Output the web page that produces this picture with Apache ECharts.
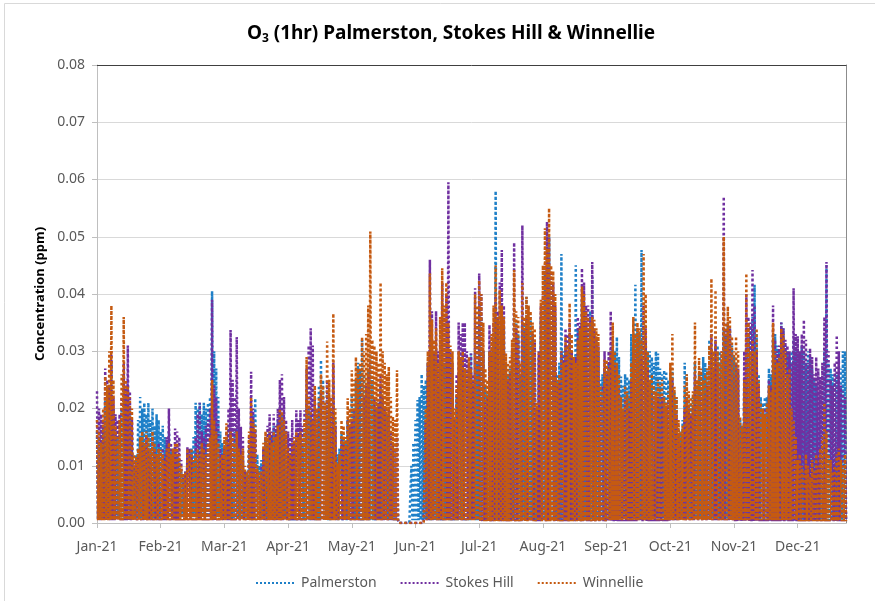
<!DOCTYPE html>
<html>
<head>
<meta charset="utf-8">
<script src="https://cdn.jsdelivr.net/npm/echarts/dist/echarts.min.js"></script>
<style>
  html, body { margin: 0; padding: 0; background: #fff; }
  #chart { width: 875px; height: 601px; }
</style>
</head>
<body>
<div id="chart"></div>
<script>
// tick labels, one every 31 days (Excel category axis, 744 hourly points apart)
const tickLabels = ['Jan-21', 'Feb-21', 'Mar-21', 'Apr-21', 'May-21', 'Jun-21',
  'Jul-21', 'Aug-21', 'Sep-21', 'Oct-21', 'Nov-21', 'Dec-21']
const seriesNames = ['Palmerston', 'Stokes Hill', 'Winnellie']

// daily peak values (ppm), one row per 31-day tick interval
const palmerstonPeaks = [
  [0.016, 0.015, 0.013, 0.017, 0.022, 0.020, 0.023, 0.028, 0.020, 0.016, 0.015, 0.016, 0.020, 0.026, 0.022, 0.024, 0.020, 0.016, 0.010, 0.012, 0.018, 0.022, 0.020, 0.021, 0.019, 0.021, 0.018, 0.020, 0.017, 0.019, 0.018],
  [0.016, 0.017, 0.015, 0.014, 0.016, 0.013, 0.012, 0.013, 0.012, 0.011, 0.009, 0.008, 0.009, 0.012, 0.011, 0.013, 0.015, 0.021, 0.020, 0.021, 0.019, 0.021, 0.020, 0.021, 0.022, 0.0405, 0.030, 0.027, 0.022, 0.016, 0.014],
  [0.013, 0.015, 0.017, 0.016, 0.018, 0.016, 0.017, 0.014, 0.012, 0.011, 0.009, 0.009, 0.013, 0.018, 0.019, 0.0218, 0.012, 0.010, 0.011, 0.013, 0.015, 0.014, 0.016, 0.015, 0.017, 0.016, 0.018, 0.020, 0.019, 0.017, 0.015],
  [0.012, 0.011, 0.013, 0.014, 0.015, 0.013, 0.015, 0.014, 0.016, 0.022, 0.020, 0.019, 0.018, 0.020, 0.019, 0.024, 0.0285, 0.025, 0.020, 0.023, 0.021, 0.020, 0.025, 0.018, 0.012, 0.013, 0.016, 0.015, 0.014, 0.018, 0.017],
  [0.0226, 0.020, 0.025, 0.028, 0.027, 0.032, 0.026, 0.024, 0.027, 0.030, 0.025, 0.022, 0.020, 0.021, 0.024, 0.022, 0.020, 0.019, 0.018, 0.016, 0.014, 0.013, 0.015, 0, 0, 0, 0, 0, 0, 0.010, 0.014],
  [0.018, 0.0215, 0.022, 0.026, 0.024, 0.025, 0.028, 0.030, 0.026, 0.025, 0.027, 0.024, 0.028, 0.030, 0.028, 0.030, 0.027, 0.025, 0.024, 0.018, 0.022, 0.026, 0.025, 0.026, 0.024, 0.025, 0.024, 0.0296, 0.024, 0.030, 0.028],
  [0.038, 0.036, 0.030, 0.024, 0.023, 0.030, 0.028, 0.032, 0.058, 0.036, 0.035, 0.038, 0.034, 0.028, 0.026, 0.027, 0.030, 0.036, 0.035, 0.033, 0.026, 0.036, 0.035, 0.0395, 0.038, 0.036, 0.033, 0.032, 0.020, 0.029, 0.036],
  [0.038, 0.044, 0.046, 0.050, 0.042, 0.040, 0.036, 0.026, 0.028, 0.047, 0.030, 0.031, 0.030, 0.033, 0.030, 0.028, 0.045, 0.034, 0.033, 0.039, 0.038, 0.035, 0.034, 0.037, 0.043, 0.033, 0.032, 0.030, 0.025, 0.026, 0.027],
  [0.026, 0.028, 0.030, 0.031, 0.030, 0.0325, 0.029, 0.0256, 0.024, 0.026, 0.0256, 0.025, 0.033, 0.031, 0.0416, 0.034, 0.033, 0.0477, 0.035, 0.032, 0.030, 0.030, 0.029, 0.028, 0.030, 0.0296, 0.027, 0.026, 0.0267, 0.0265, 0.025],
  [0.026, 0.027, 0.023, 0.022, 0.017, 0.016, 0.018, 0.028, 0.026, 0.022, 0.021, 0.022, 0.028, 0.024, 0.026, 0.026, 0.029, 0.028, 0.027, 0.032, 0.030, 0.029, 0.031, 0.031, 0.030, 0.028, 0.034, 0.033, 0.035, 0.034, 0.031],
  [0.029, 0.028, 0.026, 0.018, 0.017, 0.025, 0.030, 0.033, 0.034, 0.036, 0.0416, 0.033, 0.026, 0.022, 0.021, 0.022, 0.022, 0.027, 0.026, 0.032, 0.033, 0.031, 0.030, 0.035, 0.034, 0.031, 0.030, 0.029, 0.030, 0.032, 0.030],
  [0.030, 0.029, 0.031, 0.030, 0.028, 0.030, 0.029, 0.027, 0.025, 0.024, 0.023, 0.022, 0.025, 0.030, 0.045, 0.028, 0.027, 0.026, 0.025, 0.026, 0.025, 0.027, 0.030, 0.030]
]
const stokesHillPeaks = [
  [0.023, 0.020, 0.019, 0.018, 0.027, 0.025, 0.024, 0.030, 0.022, 0.019, 0.018, 0.019, 0.022, 0.028, 0.024, 0.031, 0.023, 0.018, 0.011, 0.010, 0.012, 0.013, 0.014, 0.013, 0.015, 0.013, 0.012, 0.015, 0.013, 0.012, 0.014],
  [0.012, 0.013, 0.012, 0.015, 0.020, 0.014, 0.013, 0.0165, 0.016, 0.015, 0.011, 0.008, 0.009, 0.0133, 0.013, 0.012, 0.011, 0.015, 0.019, 0.021, 0.016, 0.015, 0.017, 0.018, 0.020, 0.039, 0.024, 0.022, 0.018, 0.013, 0.012],
  [0.013, 0.016, 0.020, 0.0337, 0.025, 0.022, 0.0325, 0.020, 0.0168, 0.015, 0.009, 0.008, 0.015, 0.0264, 0.020, 0.016, 0.009, 0.008, 0.010, 0.013, 0.015, 0.017, 0.019, 0.016, 0.019, 0.017, 0.020, 0.025, 0.026, 0.022, 0.018],
  [0.016, 0.015, 0.018, 0.014, 0.0197, 0.018, 0.0197, 0.017, 0.0197, 0.027, 0.031, 0.034, 0.031, 0.022, 0.020, 0.021, 0.023, 0.022, 0.020, 0.025, 0.022, 0.020, 0.028, 0.017, 0.009, 0.011, 0.015, 0.014, 0.013, 0.018, 0.017],
  [0.018, 0.020, 0.022, 0.021, 0.024, 0.025, 0.022, 0.024, 0.026, 0.028, 0.025, 0.022, 0.020, 0.021, 0.026, 0.022, 0.020, 0.019, 0.020, 0.016, 0.014, 0.013, 0.015, 0, 0, 0, 0, 0, 0, 0, 0],
  [0, 0, 0, 0, 0, 0.018, 0.028, 0.046, 0.037, 0.030, 0.037, 0.030, 0.032, 0.042, 0.036, 0.040, 0.0595, 0.030, 0.028, 0.018, 0.026, 0.035, 0.033, 0.035, 0.035, 0.030, 0.028, 0.0296, 0.026, 0.041, 0.035],
  [0.0436, 0.040, 0.030, 0.021, 0.022, 0.0346, 0.030, 0.035, 0.040, 0.037, 0.042, 0.0477, 0.038, 0.0267, 0.025, 0.026, 0.030, 0.049, 0.034, 0.032, 0.027, 0.052, 0.034, 0.036, 0.037, 0.034, 0.033, 0.032, 0.020, 0.030, 0.038],
  [0.040, 0.045, 0.0526, 0.050, 0.044, 0.042, 0.038, 0.024, 0.025, 0.030, 0.029, 0.034, 0.033, 0.035, 0.030, 0.028, 0.029, 0.036, 0.035, 0.0445, 0.042, 0.038, 0.038, 0.036, 0.0456, 0.034, 0.032, 0.031, 0.022, 0.024, 0.030],
  [0.026, 0.030, 0.037, 0.032, 0.028, 0.027, 0.024, 0.020, 0.019, 0.022, 0.021, 0.020, 0.025, 0.030, 0.030, 0.032, 0.030, 0.029, 0.038, 0.034, 0.027, 0.024, 0.023, 0.022, 0.021, 0.022, 0.021, 0.022, 0.020, 0.020, 0.021],
  [0.022, 0.025, 0.020, 0.019, 0.015, 0.014, 0.015, 0.020, 0.022, 0.020, 0.019, 0.020, 0.026, 0.022, 0.024, 0.023, 0.022, 0.023, 0.024, 0.028, 0.033, 0.027, 0.032, 0.028, 0.026, 0.030, 0.057, 0.034, 0.035, 0.034, 0.030],
  [0.026, 0.028, 0.027, 0.017, 0.016, 0.030, 0.040, 0.036, 0.035, 0.0442, 0.038, 0.030, 0.024, 0.020, 0.019, 0.020, 0.020, 0.025, 0.024, 0.038, 0.032, 0.030, 0.031, 0.035, 0.034, 0.032, 0.031, 0.030, 0.028, 0.041, 0.033],
  [0.0326, 0.030, 0.033, 0.0355, 0.032, 0.028, 0.0305, 0.029, 0.026, 0.029, 0.027, 0.0255, 0.028, 0.036, 0.0456, 0.030, 0.025, 0.024, 0.028, 0.0328, 0.030, 0.024, 0.023, 0.022]
]
const winnelliePeaks = [
  [0.018, 0.016, 0.014, 0.020, 0.0256, 0.024, 0.030, 0.038, 0.025, 0.017, 0.015, 0.018, 0.026, 0.036, 0.025, 0.024, 0.022, 0.020, 0.012, 0.0116, 0.013, 0.015, 0.016, 0.014, 0.016, 0.015, 0.013, 0.016, 0.014, 0.012, 0.013],
  [0.0128, 0.012, 0.011, 0.013, 0.014, 0.012, 0.013, 0.014, 0.014, 0.012, 0.010, 0.0087, 0.009, 0.013, 0.012, 0.013, 0.011, 0.012, 0.013, 0.012, 0.014, 0.013, 0.012, 0.014, 0.015, 0.025, 0.018, 0.016, 0.014, 0.0116, 0.012],
  [0.015, 0.0174, 0.014, 0.016, 0.015, 0.014, 0.016, 0.013, 0.012, 0.013, 0.010, 0.009, 0.016, 0.022, 0.018, 0.017, 0.010, 0.009, 0.009, 0.014, 0.016, 0.015, 0.016, 0.014, 0.016, 0.015, 0.017, 0.020, 0.0195, 0.018, 0.016],
  [0.0133, 0.012, 0.014, 0.015, 0.016, 0.015, 0.016, 0.015, 0.018, 0.029, 0.022, 0.020, 0.018, 0.024, 0.020, 0.022, 0.026, 0.024, 0.021, 0.0317, 0.025, 0.022, 0.0366, 0.020, 0.0104, 0.012, 0.018, 0.017, 0.015, 0.0218, 0.020],
  [0.0267, 0.025, 0.029, 0.027, 0.028, 0.0325, 0.030, 0.033, 0.038, 0.0509, 0.032, 0.031, 0.030, 0.028, 0.042, 0.030, 0.028, 0.026, 0.0273, 0.022, 0.0186, 0.018, 0.0267, 0, 0, 0, 0, 0, 0, 0, 0],
  [0, 0, 0, 0, 0, 0.020, 0.030, 0.0436, 0.0355, 0.032, 0.034, 0.028, 0.036, 0.0445, 0.038, 0.042, 0.035, 0.031, 0.030, 0.020, 0.024, 0.030, 0.029, 0.030, 0.027, 0.0267, 0.029, 0.027, 0.025, 0.040, 0.038],
  [0.0424, 0.040, 0.035, 0.027, 0.025, 0.030, 0.033, 0.038, 0.045, 0.036, 0.0407, 0.038, 0.036, 0.0296, 0.028, 0.029, 0.032, 0.0442, 0.037, 0.036, 0.028, 0.0419, 0.036, 0.0395, 0.038, 0.037, 0.035, 0.034, 0.021, 0.030, 0.039],
  [0.045, 0.0515, 0.048, 0.055, 0.045, 0.044, 0.040, 0.025, 0.026, 0.030, 0.028, 0.0326, 0.031, 0.0384, 0.033, 0.029, 0.028, 0.032, 0.034, 0.0413, 0.040, 0.037, 0.036, 0.035, 0.036, 0.0355, 0.034, 0.033, 0.024, 0.023, 0.0285],
  [0.0285, 0.027, 0.030, 0.035, 0.030, 0.028, 0.026, 0.022, 0.020, 0.024, 0.023, 0.022, 0.028, 0.036, 0.033, 0.035, 0.034, 0.032, 0.047, 0.040, 0.030, 0.025, 0.026, 0.024, 0.023, 0.025, 0.024, 0.025, 0.022, 0.021, 0.023],
  [0.028, 0.033, 0.0238, 0.022, 0.018, 0.016, 0.017, 0.024, 0.026, 0.023, 0.022, 0.023, 0.035, 0.025, 0.0288, 0.027, 0.025, 0.026, 0.027, 0.031, 0.0427, 0.030, 0.0407, 0.030, 0.028, 0.030, 0.050, 0.035, 0.0378, 0.036, 0.0326],
  [0.030, 0.0326, 0.030, 0.0186, 0.017, 0.025, 0.0436, 0.035, 0.030, 0.032, 0.030, 0.034, 0.025, 0.021, 0.020, 0.019, 0.021, 0.024, 0.023, 0.035, 0.030, 0.028, 0.029, 0.034, 0.033, 0.030, 0.026, 0.027, 0.020, 0.018, 0.015],
  [0.011, 0.012, 0.010, 0.009, 0.012, 0.010, 0.008, 0.011, 0.009, 0.012, 0.010, 0.013, 0.015, 0.021, 0.016, 0.012, 0.011, 0.009, 0.010, 0.012, 0.013, 0.011, 0.010, 0.012]
]
// overnight lows (ppm), one per tick interval
const palmerstonLows = [0.0008, 0.001, 0.0008, 0.0005, 0.0005, 0.0005, 0.0005, 0.0005, 0.0008, 0.0008, 0.0005, 0.0005]
const stokesHillLows = [0.0005, 0.0005, 0.0005, 0.0005, 0.0005, 0.0005, 0.0003, 0.0003, 0.0003, 0.0005, 0.0003, 0.0003]
const winnellieLows = [0.0005, 0.0005, 0.0005, 0.0005, 0.0005, 0.0005, 0.0003, 0.0003, 0.0005, 0.0005, 0.0005, 0.0003]

const colors = ['#1f80c8', '#7030a0', '#c55a11']
const POINTS_PER_TICK = 62 // two points (afternoon peak, night low) per day

// peak then low for each day
function toSeries(peaks, lows) {
  const out = []
  peaks.forEach((row, k) => {
    row.forEach(p => {
      out.push(p)
      out.push(Math.min(lows[k], p))
    })
  })
  return out
}

const seriesData = [
  toSeries(palmerstonPeaks, palmerstonLows),
  toSeries(stokesHillPeaks, stokesHillLows),
  toSeries(winnelliePeaks, winnellieLows)
]
const categories = seriesData[0].map((_, i) => i)

const chart = echarts.init(document.getElementById('chart'))

chart.setOption({
  animation: false,
  color: colors,
  textStyle: {fontFamily: 'Noto Sans'},
  title: {
    text: 'O{sub|3} (1hr) Palmerston, Stokes Hill & Winnellie',
    left: 446,
    textAlign: 'center',
    top: 18,
    textStyle: {
      fontFamily: 'Noto Sans',
      fontSize: 19,
      fontWeight: 'bold',
      color: '#000',
      rich: {
        sub: {fontFamily: 'Noto Sans', fontSize: 12, fontWeight: 'bold', color: '#000', padding: [10, 0, 0, 0]}
      }
    }
  },
  graphic: [{
    type: 'rect',
    shape: {x: 4.5, y: 3.5, width: 900, height: 700},
    style: {fill: 'none', stroke: '#d9d9d9', lineWidth: 1},
    silent: true
  }],
  legend: {
    left: 250,
    top: 571,
    itemWidth: 40,
    itemHeight: 10,
    itemGap: 23,
    itemStyle: {opacity: 0},
    textStyle: {fontSize: 14, color: '#595959', fontFamily: 'Noto Sans'},
    data: seriesNames
  },
  grid: {left: 97, right: 29, top: 65, bottom: 78},
  xAxis: [{
    type: 'category',
    data: categories,
    boundaryGap: false,
    axisLine: {lineStyle: {color: '#bfbfbf'}},
    axisTick: {
      show: true,
      length: 5,
      interval: idx => idx % POINTS_PER_TICK === 0,
      lineStyle: {color: '#bfbfbf'}
    },
    axisLabel: {
      interval: idx => idx % POINTS_PER_TICK === 0,
      formatter: v => tickLabels[Math.round(Number(v) / POINTS_PER_TICK)] || '',
      margin: 17,
      fontSize: 14,
      color: '#595959',
      fontFamily: 'Noto Sans'
    },
    splitLine: {show: false}
  }, {
    type: 'value',
    position: 'top',
    min: 0,
    max: 1,
    axisLine: {show: true, onZero: false, lineStyle: {color: '#404040'}},
    axisTick: {show: false},
    axisLabel: {show: false},
    splitLine: {show: false}
  }],
  yAxis: [{
    type: 'value',
    min: 0,
    max: 0.08,
    interval: 0.01,
    name: 'Concentration (ppm)',
    nameLocation: 'middle',
    nameGap: 50,
    nameTextStyle: {fontSize: 13, fontWeight: 'bold', color: '#000', fontFamily: 'Noto Sans'},
    axisLine: {show: true, lineStyle: {color: '#bfbfbf'}},
    axisTick: {show: true, length: 5, lineStyle: {color: '#bfbfbf'}},
    axisLabel: {
      formatter: v => v.toFixed(2),
      margin: 12,
      fontSize: 14,
      color: '#595959',
      fontFamily: 'Noto Sans'
    },
    splitLine: {lineStyle: {color: '#d9d9d9'}}
  }, {
    type: 'value',
    position: 'right',
    min: 0,
    max: 1,
    axisLine: {show: true, onZero: false, lineStyle: {color: '#8c8c8c'}},
    axisTick: {show: false},
    axisLabel: {show: false},
    splitLine: {show: false}
  }],
  series: seriesNames.map((name, i) => ({
    name: name,
    type: 'line',
    data: seriesData[i],
    showSymbol: false,
    symbol: 'none',
    lineStyle: {width: 2.5, type: 'dotted', color: colors[i]},
    itemStyle: {color: colors[i]}
  }))
})
</script>
</body>
</html>
